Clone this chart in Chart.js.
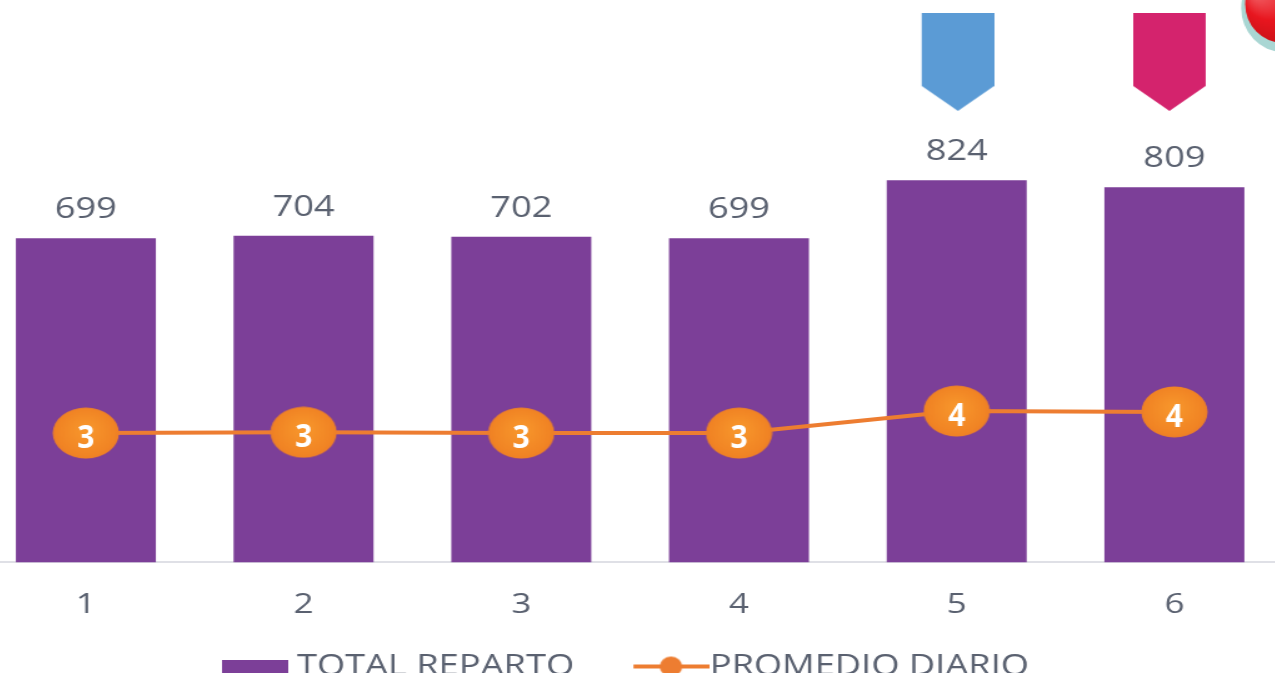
<!DOCTYPE html>
<html><head><meta charset="utf-8">
<style>
html,body{margin:0;padding:0;background:#fff;overflow:hidden;width:1275px;height:673px}
#wrap{position:absolute;left:-23px;top:0;width:1045px;height:691px;transform:scaleX(1.25);transform-origin:0 0}
</style>
<script src="https://cdn.jsdelivr.net/npm/chart.js@4"></script>
</head><body>
<div id="wrap"><canvas id="c" width="1045" height="691"></canvas></div>
<script>
const categories = ["1","2","3","4","5","6"];
const totalReparto = [699,704,702,699,824,809];
const promedioDiario = [3.24,3.26,3.24,3.24,3.79,3.77];
const flagBlue = [null,null,null,null,1079,null];
const flagPink = [null,null,null,null,null,1079];
const seriesNames = ["TOTAL REPARTO","PROMEDIO DIARIO"];

const FONT = '"Open Sans", sans-serif';
const TEXT = '#5a6170', PURPLE = '#7c3f98', ORANGE = '#ed7d31';
const SX = 1.25, AXIS_TRIM = 44;

function mk(w,h,fn){const c=document.createElement('canvas');c.width=w;c.height=h;fn(c.getContext('2d'));return c;}
function marker(){return mk(54,52,g=>{
  const gr=g.createRadialGradient(27,22,4,27,26,30);
  gr.addColorStop(0,'#f7952b');gr.addColorStop(.75,'#f18424');gr.addColorStop(1,'#e9792c');
  g.fillStyle=gr;g.beginPath();g.ellipse(27,26,26.5,25.5,0,0,Math.PI*2);g.fill();
});}
function flag(color,shift){const pad=Math.abs(shift)*2;return mk(58+pad,98,g=>{
  g.translate(shift<0?0:pad,0);
  g.fillStyle=color;g.beginPath();g.moveTo(0,0);g.lineTo(58,0);g.lineTo(58,73);g.lineTo(29,98);g.lineTo(0,73);g.closePath();g.fill();
});}
const legendBar = mk(53,14,g=>{g.fillStyle=PURPLE;g.fillRect(0,0,53,14);});
const legendLine = mk(67,24,g=>{g.fillStyle=ORANGE;g.fillRect(6,10,61,4);g.beginPath();g.ellipse(36,12,9,10,0,0,Math.PI*2);g.fill();});

const axisRestore = {
  id:'axisRestore',
  afterLayout(chart){chart.scales.x.bottom+=AXIS_TRIM;}
};
const valueLabels = {
  id:'valueLabels',
  afterDatasetsDraw(chart){
    const g=chart.ctx;g.save();g.textAlign='center';g.textBaseline='middle';
    const bars=chart.getDatasetMeta(0).data;
    g.font='400 29px '+FONT;g.fillStyle=TEXT;
    bars.forEach((b,i)=>g.fillText(String(totalReparto[i]),b.x,b.y-28));
    const pts=chart.getDatasetMeta(1).data;
    g.font='700 32px '+FONT;g.fillStyle='#fff';
    pts.forEach((p,i)=>{
      g.save();g.translate(p.x,p.y+6);g.scale(0.75,1);
      g.fillText(String(Math.round(promedioDiario[i])),0,0);
      g.restore();
    });
    g.restore();
  }
};
const redBadge = {
  id:'redBadge',
  afterDraw(chart){
    const g=chart.ctx,x=chart.scales.x.getPixelForValue(5)+87;
    g.save();
    g.fillStyle='#a9d6d3';g.beginPath();g.ellipse(x,8,42/SX,44,0,0,Math.PI*2);g.fill();
    const gr=g.createRadialGradient(x-20,-6,4,x,4,38);
    gr.addColorStop(0,'#f0545a');gr.addColorStop(.5,'#e8161f');gr.addColorStop(1,'#cf1218');
    g.fillStyle=gr;g.beginPath();g.ellipse(x,4,38/SX,39,0,0,Math.PI*2);g.fill();
    g.restore();
  }
};

new Chart(document.getElementById('c'),{
  data:{labels:categories,datasets:[
    {type:'bar',label:seriesNames[0],data:totalReparto,backgroundColor:PURPLE,barPercentage:0.643,categoryPercentage:1,yAxisID:'y',order:3,pointStyle:legendBar},
    {type:'line',label:seriesNames[1],data:promedioDiario,borderColor:ORANGE,backgroundColor:ORANGE,borderWidth:4,tension:0,yAxisID:'y1',order:1,pointStyle:marker(),pointRadius:26,pointHoverRadius:26,clip:false},
    {type:'line',label:'f1',data:flagBlue,showLine:false,yAxisID:'y',order:2,pointStyle:flag('#5b9bd5',1),pointRadius:50,clip:false},
    {type:'line',label:'f2',data:flagPink,showLine:false,yAxisID:'y',order:2,pointStyle:flag('#d4236d',-4),pointRadius:50,clip:false}
  ]},
  options:{
    responsive:false,animation:false,
    layout:{autoPadding:false,padding:{top:0,left:0,right:0,bottom:0}},
    plugins:{
      tooltip:{enabled:false},
      legend:{position:'bottom',
        labels:{font:{size:29,family:FONT},color:TEXT,usePointStyle:true,padding:56,
          generateLabels(chart){return [
            {text:seriesNames[0],pointStyle:legendBar,fontColor:TEXT,datasetIndex:0,lineWidth:0},
            {text:seriesNames[1],pointStyle:legendLine,fontColor:TEXT,datasetIndex:1,lineWidth:0}
          ];},
          pointStyleWidth:38,boxHeight:14
        }
      }
    },
    scales:{
      x:{offset:true,grid:{display:false},border:{display:true,color:'#dfe0e6',width:2},
        afterFit(s){s.height-=AXIS_TRIM;},
        ticks:{font:{size:28,family:FONT},color:TEXT,padding:18,maxRotation:0}},
      y:{display:false,min:0,max:1212.5},
      y1:{display:false,min:0,max:14.09}
    }
  },
  plugins:[axisRestore,valueLabels,redBadge]
});
</script>
</body></html>
